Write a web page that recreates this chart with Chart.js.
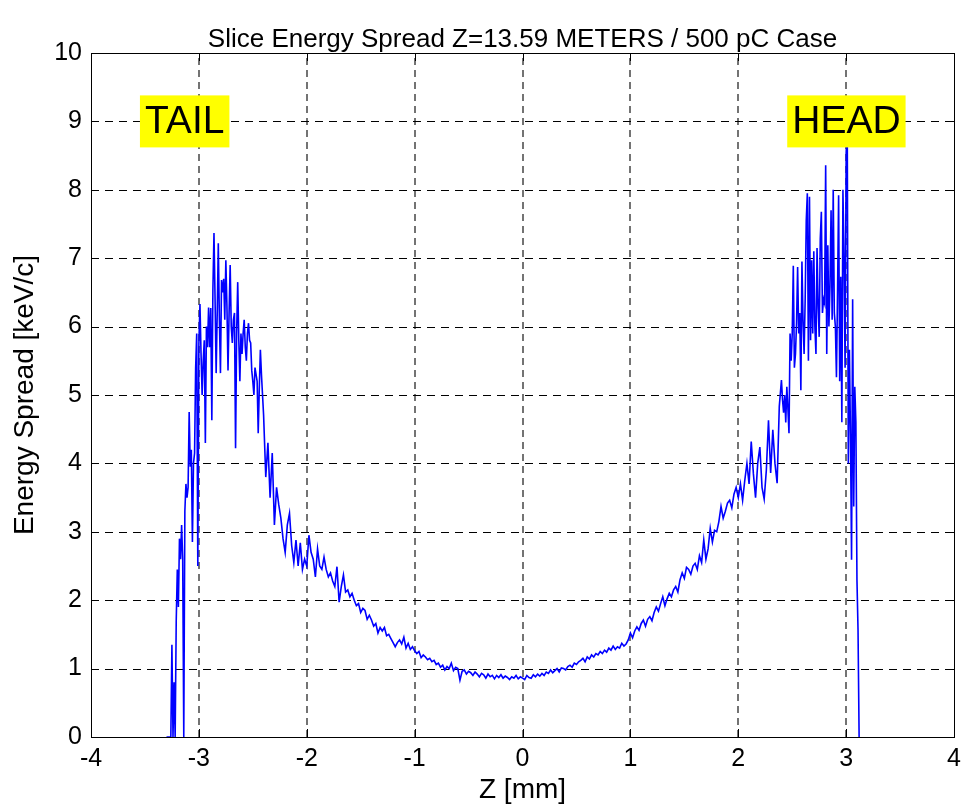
<!DOCTYPE html>
<html>
<head>
<meta charset="utf-8">
<script src="https://cdn.jsdelivr.net/npm/chart.js@4.4.1/dist/chart.umd.min.js"></script>
<style>
    html, body { margin: 0; padding: 0; background: #fff; }
    #wrap { width: 968px; height: 807px; }
</style>
</head>
<body>
<div id="wrap"><canvas id="chart" width="968" height="807"></canvas></div>
<script>
// slice positions along the bunch, mm
const sliceZ = [
    -3.30, -3.29, -3.28, -3.27, -3.26, -3.25, -3.24, -3.23, -3.22, -3.21,
    -3.20, -3.19, -3.18, -3.17, -3.16, -3.15, -3.14, -3.13, -3.12, -3.11,
    -3.10, -3.09, -3.08, -3.07, -3.06, -3.05, -3.04, -3.03, -3.02, -3.01,
    -3.00, -2.99, -2.98, -2.97, -2.96, -2.95, -2.94, -2.93, -2.92, -2.91,
    -2.90, -2.89, -2.88, -2.87, -2.86, -2.85, -2.84, -2.83, -2.82, -2.81,
    -2.80, -2.79, -2.78, -2.77, -2.76, -2.75, -2.74, -2.73, -2.72, -2.71,
    -2.70, -2.69, -2.68, -2.67, -2.66, -2.65, -2.64, -2.63, -2.62, -2.61,
    -2.60, -2.59, -2.58, -2.57, -2.56, -2.55, -2.54, -2.53, -2.52, -2.51,
    -2.50, -2.49, -2.48, -2.47, -2.46, -2.45, -2.44, -2.43, -2.42, -2.41,
    -2.40,
    -2.38, -2.36, -2.34, -2.32, -2.30, -2.28, -2.26, -2.24, -2.22, -2.20,
    -2.18, -2.16, -2.14, -2.12, -2.10, -2.08, -2.06, -2.04, -2.02, -2.00,
    -1.98, -1.96, -1.94, -1.92, -1.90, -1.88, -1.86, -1.84, -1.82, -1.80,
    -1.78, -1.76, -1.74, -1.72, -1.70, -1.68, -1.66, -1.64, -1.62, -1.60,
    -1.58, -1.56, -1.54, -1.52, -1.50, -1.48, -1.46, -1.44, -1.42, -1.40,
    -1.38, -1.36, -1.34, -1.32, -1.30, -1.28, -1.26, -1.24, -1.22, -1.20,
    -1.18, -1.16, -1.14, -1.12, -1.10, -1.08, -1.06, -1.04, -1.02, -1.00,
    -0.98, -0.96, -0.94, -0.92, -0.90, -0.88, -0.86, -0.84, -0.82, -0.80,
    -0.78, -0.76, -0.74, -0.72, -0.70, -0.68, -0.66, -0.64, -0.62, -0.60,
    -0.58, -0.56, -0.54, -0.52, -0.50, -0.48, -0.46, -0.44, -0.42, -0.40,
    -0.38, -0.36, -0.34, -0.32, -0.30, -0.28, -0.26, -0.24, -0.22, -0.20,
    -0.18, -0.16, -0.14, -0.12, -0.10, -0.08, -0.06, -0.04, -0.02, 0.00,
    0.02, 0.04, 0.06, 0.08, 0.10, 0.12, 0.14, 0.16, 0.18, 0.20,
    0.22, 0.24, 0.26, 0.28, 0.30, 0.32, 0.34, 0.36, 0.38, 0.40,
    0.42, 0.44, 0.46, 0.48, 0.50, 0.52, 0.54, 0.56, 0.58, 0.60,
    0.62, 0.64, 0.66, 0.68, 0.70, 0.72, 0.74, 0.76, 0.78, 0.80,
    0.82, 0.84, 0.86, 0.88, 0.90, 0.92, 0.94, 0.96, 0.98, 1.00,
    1.02, 1.04, 1.06, 1.08, 1.10, 1.12, 1.14, 1.16, 1.18, 1.20,
    1.22, 1.24, 1.26, 1.28, 1.30, 1.32, 1.34, 1.36, 1.38, 1.40,
    1.42, 1.44, 1.46, 1.48, 1.50, 1.52, 1.54, 1.56, 1.58, 1.60,
    1.62, 1.64, 1.66, 1.68, 1.70, 1.72, 1.74, 1.76, 1.78, 1.80,
    1.82, 1.84, 1.86, 1.88, 1.90, 1.92, 1.94, 1.96, 1.98, 2.00,
    2.02, 2.04, 2.06, 2.08, 2.10, 2.12, 2.14, 2.16, 2.18, 2.20,
    2.22, 2.24, 2.26, 2.28, 2.30, 2.32, 2.34, 2.36, 2.38,
    2.40, 2.41, 2.42, 2.43, 2.44, 2.45, 2.46, 2.47, 2.48, 2.49,
    2.50, 2.51, 2.52, 2.53, 2.54, 2.55, 2.56, 2.57, 2.58, 2.59,
    2.60, 2.61, 2.62, 2.63, 2.64, 2.65, 2.66, 2.67, 2.68, 2.69,
    2.70, 2.71, 2.72, 2.73, 2.74, 2.75, 2.76, 2.77, 2.78, 2.79,
    2.80, 2.81, 2.82, 2.83, 2.84, 2.85, 2.86, 2.87, 2.88, 2.89,
    2.90, 2.91, 2.92, 2.93, 2.94, 2.95, 2.96, 2.97, 2.98, 2.99,
    3.00, 3.01, 3.02, 3.03, 3.04, 3.05, 3.06, 3.07, 3.08, 3.09,
    3.10, 3.11, 3.12,
];

// slice energy spread, keV/c (same order as sliceZ)
const energySpread = [
    0, 0, 0, 0, 0, 1.35, 0, 0.8, 0, 1.7,
    2.45, 1.9, 2.9, 2.6, 3.1, 2.6, 0, 3.3, 3.7, 3.5,
    3.65, 4.75, 3.95, 4.2, 2.85, 4.0, 4.15, 5.4, 5.9, 2.5,
    5.75, 6.33, 5.6, 5.0, 5.5, 5.8, 4.3, 6.0, 5.7, 6.28,
    5.7, 6.27, 4.63, 6.55, 7.37, 6.4, 5.32, 6.2, 7.22, 6.1,
    5.32, 6.68, 6.5, 6.7, 6.1, 6.97, 6.3, 5.36, 6.2, 6.9,
    6.0, 5.76, 6.1, 6.2, 4.22, 5.9, 6.65, 5.8, 5.2, 5.9,
    5.6, 5.9, 6.1, 5.7, 5.5, 5.9, 6.05, 5.8, 5.76, 5.36,
    5.2, 5.0, 5.4, 5.3, 5.2, 4.44, 5.1, 5.66, 5.3, 5.0,
    4.7,
    3.8, 4.3, 3.5, 4.15, 3.1, 3.65, 3.4, 3.2, 2.9, 2.7,
    3.1, 3.27, 2.8, 2.55, 2.88, 2.5, 2.84, 2.45, 2.6, 2.5,
    2.95, 2.7, 2.6, 2.34, 2.75, 2.5, 2.45, 2.63, 2.45, 2.34,
    2.4, 2.28, 2.2, 2.49, 1.97, 2.2, 2.37, 2.12, 2.15, 2.05,
    2.1, 2.0, 1.92, 1.95, 1.82, 1.88, 1.85, 1.72, 1.78, 1.71,
    1.62, 1.66, 1.52, 1.6, 1.55, 1.6, 1.48, 1.5, 1.44, 1.38,
    1.32, 1.38, 1.42, 1.36, 1.46, 1.3, 1.37, 1.28, 1.32, 1.26,
    1.22, 1.25, 1.16, 1.2, 1.17, 1.13, 1.15, 1.1, 1.12, 1.06,
    1.08, 1.02, 1.05, 0.98, 1.03, 1.0, 1.08, 0.97, 1.02, 1.0,
    0.83, 0.96, 0.98, 0.92, 0.96, 0.94, 0.9, 0.95, 0.92, 0.88,
    0.93, 0.91, 0.86, 0.92, 0.88, 0.9, 0.85, 0.9, 0.87, 0.91,
    0.86, 0.89, 0.87, 0.84, 0.88, 0.86, 0.9, 0.85, 0.88, 0.86,
    0.84, 0.9, 0.87, 0.86, 0.91, 0.88, 0.92, 0.89, 0.93, 0.9,
    0.95, 0.93, 0.98, 0.94, 0.97, 1.0, 0.95, 1.01, 1.0, 0.98,
    1.03, 1.05, 1.02, 1.08, 1.06, 1.1, 1.12, 1.15, 1.1, 1.17,
    1.14, 1.2, 1.17, 1.22, 1.2, 1.25, 1.22, 1.27, 1.24, 1.3,
    1.27, 1.33, 1.28, 1.32, 1.3, 1.37, 1.33, 1.36, 1.42, 1.52,
    1.45, 1.55, 1.61, 1.56, 1.66, 1.71, 1.62, 1.72, 1.76, 1.7,
    1.82, 1.9, 1.84, 1.95, 2.05, 1.92, 2.02, 2.1, 2.05, 2.15,
    2.2, 2.12, 2.3, 2.4, 2.32, 2.48, 2.45, 2.38, 2.5, 2.54,
    2.45, 2.65, 2.55, 2.88, 2.6, 2.75, 3.05, 2.85, 3.02, 3.0,
    3.15, 3.37, 3.2, 3.3, 3.42, 3.46, 3.35, 3.55, 3.65, 3.5,
    3.7, 3.46, 3.75, 4.0, 3.7, 4.32, 3.85, 3.5, 4.0, 4.24,
    3.65, 3.48, 3.9, 4.63, 3.86, 4.49, 4.0, 3.71, 4.83,
    5.22, 4.93, 4.74, 5.0, 4.6, 5.12, 4.8, 4.44, 5.9, 5.5,
    5.9, 6.89, 5.4, 5.6, 6.05, 6.87, 5.9, 6.2, 5.07, 6.95,
    6.1, 5.6, 6.4, 7.55, 7.95, 5.5, 7.9, 5.8, 6.97, 5.9,
    7.1, 6.0, 5.6, 7.15, 6.3, 5.85, 7.28, 7.68, 6.2, 6.4,
    6.34, 8.36, 5.6, 7.19, 6.0, 6.6, 7.7, 6.1, 8.0, 6.2,
    6.0, 5.26, 6.5, 7.92, 5.2, 6.73, 4.6, 8.0, 7.05, 5.4,
    8.54, 8.92, 4.0, 5.66, 4.4, 2.59, 6.4, 3.37, 5.12, 4.6,
    2.3, 1.56, 0,
];

const xTicks = [-4, -3, -2, -1, 0, 1, 2, 3, 4];
const yTicks = [0, 1, 2, 3, 4, 5, 6, 7, 8, 9, 10];

const noteTexts = ['TAIL', 'HEAD'];
const noteZ = [-3.5, 2.5];
const noteE = [9, 9];

const FONT = '"Liberation Sans", Arial, Helvetica, sans-serif';
const TITLE = 'Slice Energy Spread Z=13.59 METERS / 500 pC Case';

Chart.defaults.font.family = FONT;
Chart.defaults.color = '#000';

// matlab-like axes: dashed grid, box, inner ticks, yellow labels, title
const matlabFrame = {
    id: 'matlabFrame',
    beforeDatasetsDraw(chart) {
        const { ctx, chartArea: a, scales: { x, y } } = chart;
        ctx.save();

        ctx.strokeStyle = '#000';
        ctx.lineWidth = 1;
        ctx.setLineDash([8, 6]);
        yTicks.slice(1, -1).forEach((v) => {
            const py = Math.round(y.getPixelForValue(v)) + 0.5;
            ctx.beginPath();
            ctx.moveTo(a.left, py);
            ctx.lineTo(a.right, py);
            ctx.stroke();
        });

        ctx.strokeStyle = 'rgba(0, 0, 0, 0.55)';
        ctx.lineWidth = 2;
        ctx.setLineDash([7, 5]);
        xTicks.slice(1, -1).forEach((v) => {
            const px = Math.round(x.getPixelForValue(v));
            ctx.beginPath();
            ctx.moveTo(px, a.bottom);
            ctx.lineTo(px, a.top);
            ctx.stroke();
        });

        ctx.restore();
    },
    afterDatasetsDraw(chart) {
        const { ctx, chartArea: a, scales: { x, y } } = chart;
        ctx.save();

        // box + ticks
        ctx.strokeStyle = '#000';
        ctx.lineWidth = 1;
        ctx.setLineDash([]);
        ctx.strokeRect(Math.round(a.left) + 0.5, Math.round(a.top) + 0.5,
            Math.round(a.right - a.left), Math.round(a.bottom - a.top));

        ctx.beginPath();
        xTicks.forEach((v) => {
            const px = Math.round(x.getPixelForValue(v)) + 0.5;
            ctx.moveTo(px, a.bottom);
            ctx.lineTo(px, a.bottom - 8);
            ctx.moveTo(px, a.top);
            ctx.lineTo(px, a.top + 8);
        });
        yTicks.forEach((v) => {
            const py = Math.round(y.getPixelForValue(v)) + 0.5;
            ctx.moveTo(a.left, py);
            ctx.lineTo(a.left + 8, py);
            ctx.moveTo(a.right, py);
            ctx.lineTo(a.right - 8, py);
        });
        ctx.stroke();

        // TAIL / HEAD boxes
        ctx.font = `39px ${FONT}`;
        ctx.textBaseline = 'middle';
        ctx.textAlign = 'left';
        noteTexts.forEach((text, i) => {
            const px = x.getPixelForValue(noteZ[i]);
            const py = y.getPixelForValue(noteE[i]);
            const w = ctx.measureText(text).width;
            ctx.fillStyle = '#ffff00';
            ctx.fillRect(px - 5, py - 26, w + 10, 52);
            ctx.fillStyle = '#000';
            ctx.fillText(text, px, py + 1);
        });

        // title
        ctx.font = `26px ${FONT}`;
        ctx.textAlign = 'center';
        ctx.textBaseline = 'alphabetic';
        ctx.fillText(TITLE, (a.left + a.right) / 2, a.top - 6);

        ctx.restore();
    },
};

const ctx = document.getElementById('chart').getContext('2d');

new Chart(ctx, {
    type: 'line',
    data: {
        datasets: [{
            data: sliceZ.map((z, i) => ({ x: z, y: energySpread[i] })),
            borderColor: '#0000ff',
            borderWidth: 1.6,
            pointRadius: 0,
            tension: 0,
            fill: false,
        }],
    },
    options: {
        responsive: false,
        animation: false,
        devicePixelRatio: 1,
        layout: {
            padding: { top: 53, right: 10, left: 0, bottom: 0 },
        },
        plugins: {
            legend: { display: false },
            tooltip: { enabled: false },
            title: { display: false },
        },
        scales: {
            x: {
                type: 'linear',
                min: -4,
                max: 4,
                afterBuildTicks: (scale) => {
                    scale.ticks = xTicks.map((v) => ({ value: v }));
                },
                afterFit: (scale) => {
                    scale.height = 70;
                },
                grid: { display: false, drawTicks: false },
                border: { display: false },
                ticks: {
                    padding: 7,
                    maxRotation: 0,
                    autoSkip: false,
                    font: { size: 25 },
                    color: '#000',
                },
                title: {
                    display: true,
                    text: 'Z [mm]',
                    font: { size: 28 },
                    color: '#000',
                    padding: { top: 0, bottom: 0 },
                },
            },
            y: {
                type: 'linear',
                min: 0,
                max: 10,
                afterBuildTicks: (scale) => {
                    scale.ticks = yTicks.map((v) => ({ value: v }));
                },
                afterFit: (scale) => {
                    scale.width = 91;
                },
                grid: { display: false, drawTicks: false },
                border: { display: false },
                ticks: {
                    padding: 9,
                    autoSkip: false,
                    font: { size: 25 },
                    color: '#000',
                },
                title: {
                    display: true,
                    text: 'Energy Spread [keV/c]',
                    font: { size: 28 },
                    color: '#000',
                    padding: { top: 8, bottom: 0 },
                },
            },
        },
    },
    plugins: [matlabFrame],
});
</script>
</body>
</html>
